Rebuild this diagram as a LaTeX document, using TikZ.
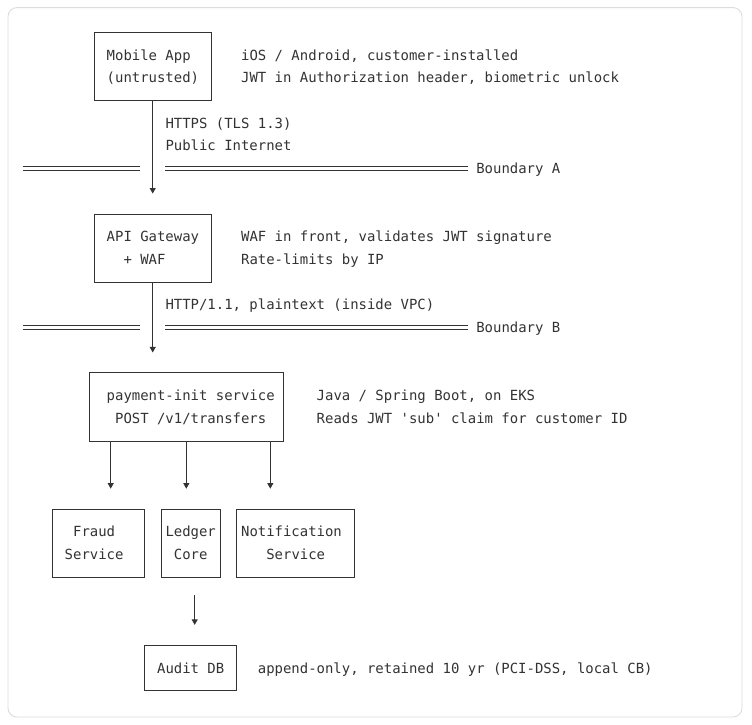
\documentclass[tikz,border=0pt]{standalone}
\usepackage{fontspec}
\setmonofont{DejaVu Sans Mono}
\usetikzlibrary{arrows.meta}
\definecolor{ink}{HTML}{333333}
\definecolor{rim}{HTML}{DCDCDC}

% grid: one unit = one character cell
\def\boxes{{(15.5,1.5)/14/3/mob}, {(15.5,9.5)/14/3/gw}, {(19.5,16.5)/23/3/pay}, {(9,22.5)/11/3/fraud}, {(20,22.5)/7/3/ledger}, {(32.5,22.5)/14/3/notif}, {(20,28)/11/2/audit}}
\def\notes{1/10/{Mobile App}, 2/10/{(untrusted)}, 1/26/{iOS / Android, customer-installed}, 2/26/{JWT in Authorization header, biometric unlock}, 4/17/{HTTPS (TLS 1.3)}, 5/17/{Public Internet}, 9/10/{API Gateway}, 10/12/{+ WAF}, 9/26/{WAF in front, validates JWT signature}, 10/26/{Rate-limits by IP}, 12/17/{HTTP/1.1, plaintext (inside VPC)}, 16/10/{payment-init service}, 17/11/{POST /v1/transfers}, 16/35/{Java / Spring Boot, on EKS}, 17/35/{Reads JWT 'sub' claim for customer ID}, 22/6/{Fraud}, 23/5/{Service}, 22/17/{Ledger}, 23/18/{Core}, 22/26/{Notification}, 23/29/{Service}, 28/16/{Audit DB}, 28/28/{append-only, retained 10 yr (PCI-DSS, local CB)}}
\tikzstyle{box}=[rectangle,draw=ink,line width=0.7pt,inner sep=0pt]
\tikzstyle{txt}=[anchor=west,inner sep=0pt,text height=10.2pt,text depth=0pt,text=ink,font=\ttfamily\fontsize{13.95pt}{22.7pt}\selectfont]
\tikzstyle{flow}=[draw=ink,line width=0.8pt,-{Triangle[width=6pt,length=5.5pt]},shorten >=20pt]
\tikzstyle{rail}=[draw=ink,line width=0.7pt]
\tikzstyle{frame}=[draw=rim,line width=0.9pt,rounded corners=9pt]

\begin{document}
\begin{tikzpicture}[x=8.4pt,y=-22.7pt]
  \useasboundingbox (-2.679,-1.423) rectangle (86.845,30.515);
  \path[frame,fill=white] (-1.726,-1.09) rectangle (85.655,30.163);

  % First we draw the boxes
  \foreach \pos/\w/\h/\name in \boxes
    \node[box,minimum width=\w*8.4pt,minimum height=\h*22.7pt] (\name) at \pos {};

  % Then the texts, row/column/text
  \foreach \r/\c/\t in \notes
    \node[txt] (n\r-\c) at (\c,\r) {\t};

  % Trust boundaries (double rule)
  \foreach \ln/\tag in {6/A, 13/B} {
    \foreach \dy in {-1.7pt, 1.7pt} {
      \path[rail] ([yshift=\dy]0,\ln) -- ([yshift=\dy]14,\ln);
      \path[rail] ([yshift=\dy]17,\ln) -- ([yshift=\dy]53,\ln);
    }
    \node[txt] (bound\tag) at (54,\ln) {Boundary \tag};
  }

  % Connect boxes with arrows
  \path[flow] (mob.south) -- (mob.south |- gw.north);
  \path[flow] (gw.south) -- (gw.south |- pay.north);
  \foreach \x/\dest in {10.5/fraud, 19.5/ledger, 29.5/notif}
    \path[flow] (\x,0 |- pay.south) -- (\x,0 |- \dest.north);
  \path[flow,shorten <=18pt] (20.5,0 |- ledger.south) -- (20.5,0 |- audit.north);
\end{tikzpicture}
\end{document}
